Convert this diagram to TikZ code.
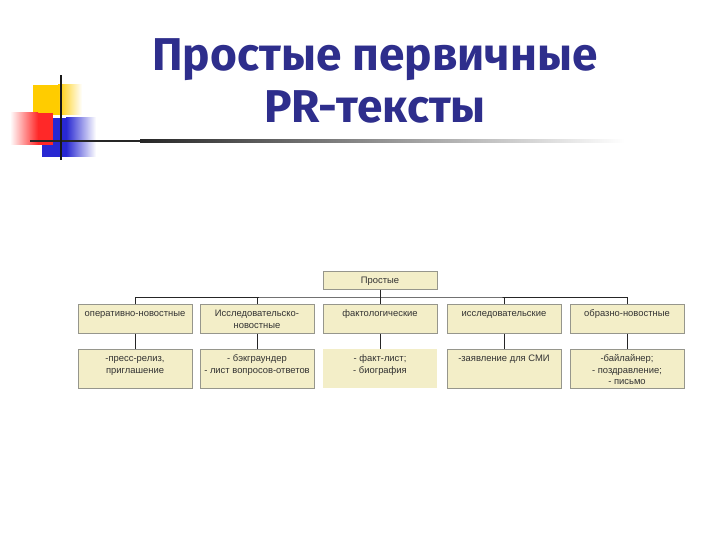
\documentclass[tikz,border=0pt]{standalone}
\usepackage{fontspec}
\setmainfont{Liberation Sans}
\newfontfamily\titlefont{Fira Sans}
\newcommand\myfl{\rule{0pt}{8pt}}
\definecolor{boxfill}{RGB}{243,238,200}
\definecolor{boxline}{RGB}{150,150,140}
\definecolor{titleblue}{RGB}{46,46,140}
\definecolor{txt}{RGB}{50,50,50}
\definecolor{decoyellow}{RGB}{255,204,0}
\definecolor{decored}{RGB}{255,40,40}
\definecolor{decoblue}{RGB}{40,40,210}
\begin{document}
\begin{tikzpicture}[x=1pt,y=-1pt,
  box/.style={draw=boxline, line width=0.6pt, fill=boxfill, minimum width=114pt, inner sep=0pt, anchor=north},
  plain/.style={fill=boxfill, minimum width=114pt, inner sep=0pt, anchor=north},
  lbl/.style={font=\fontsize{9.4}{11.3}\selectfont, text=txt, align=center, anchor=north, inner sep=0pt},
  conn/.style={draw=black!85, line width=0.6pt},
  titletxt/.style={font=\titlefont\bfseries\fontsize{46}{50}\selectfont, text=titleblue, anchor=base, inner sep=0pt}
]
\useasboundingbox (0,0) rectangle (720,540);
\fill[white] (0,0) rectangle (720,540);

% decoration
\fill[decoyellow] (33,85) rectangle (58,115);
\shade[left color=decoyellow, right color=white] (58,85) rectangle (82,115);
\fill[decoblue] (42,118) rectangle (66,157);
\shade[left color=decoblue, right color=white] (66,118) rectangle (96,157);
\shade[left color=white, right color=decored] (10,113) rectangle (38,145);
\fill[decored] (38,113) rectangle (53,145);
\fill[black!85] (30,139.7) rectangle (140,142.3);
\shade[left color=black!85, right color=white] (140,139.7) rectangle (625,142.3);
\fill[black!90] (60,75) rectangle (62.2,160);

% title
\node[titletxt] (t1) at (375,71) {Простые первичные};
\node[titletxt] (t2) at (375,123) {PR-тексты};

% top box
\node[box, minimum height=18pt] (top) at (380,271) {};
\node[lbl] (topl) at ([yshift=-4pt]top.north) {\myfl Простые};

% level 2
\foreach \n/\x in {a/135,b/257,c/380,d/504,e/627}{
  \node[box, minimum height=29pt] (m\n) at (\x,304) {};
}
\node[lbl] at ([yshift=-4.5pt]ma.north) {\myfl оперативно-новостные};
\node[lbl] at ([yshift=-4.5pt]mb.north) {\myfl Исследовательско-\\новостные};
\node[lbl] at ([yshift=-4.5pt]mc.north) {\myfl фактологические};
\node[lbl] at ([yshift=-4.5pt]md.north) {\myfl исследовательские};
\node[lbl] at ([yshift=-4.5pt]me.north) {\myfl образно-новостные};

% level 3
\node[box, minimum height=39pt] (ba) at (135,349) {};
\node[box, minimum height=39pt] (bb) at (257,349) {};
\node[plain, minimum height=39pt] (bc) at (380,349) {};
\node[box, minimum height=39pt] (bd) at (504,349) {};
\node[box, minimum height=39pt] (be) at (627,349) {};
\node[lbl] at ([yshift=-4.5pt]ba.north) {\myfl -пресс-релиз,\\приглашение};
\node[lbl] at ([yshift=-4.5pt]bb.north) {\myfl - бэкграундер\\- лист вопросов-ответов};
\node[lbl] at ([yshift=-4.5pt]bc.north) {\myfl - факт-лист;\\- биография};
\node[lbl] at ([yshift=-4.5pt]bd.north) {\myfl -заявление для СМИ};
\node[lbl] at ([yshift=-4.5pt]be.north) {\myfl -байлайнер;\\- поздравление;\\- письмо};

% connectors
\coordinate (bus) at (380,297);
\draw[conn] (top.south) -- (bus);
\draw[conn] (ma.north) |- (bus) -| (me.north);
\foreach \n in {b,c,d}{ \draw[conn] (m\n.north) -- (m\n.north |- bus); }
\foreach \n in {a,b,c,d,e}{ \draw[conn] (m\n.south) -- (b\n.north); }
\end{tikzpicture}
\end{document}
